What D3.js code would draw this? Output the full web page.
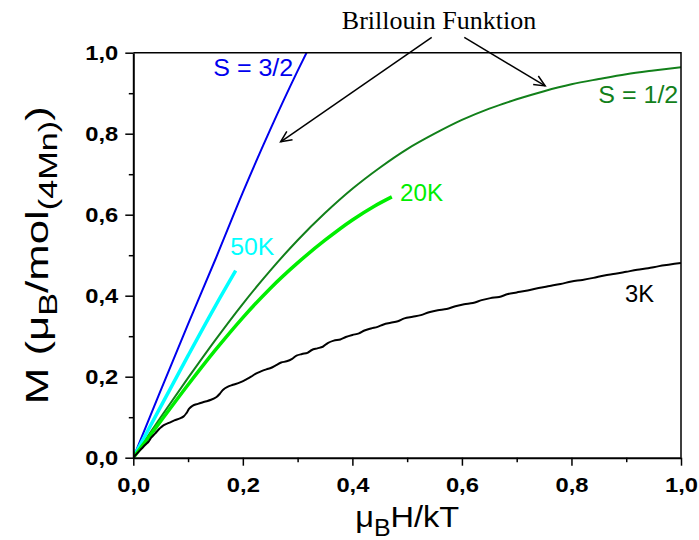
<!DOCTYPE html>
<html>
<head>
<meta charset="utf-8">
<script src="https://cdn.jsdelivr.net/npm/d3@7"></script>
<style>
  body { margin: 0; background: #fff; }
  svg { display: block; }
</style>
</head>
<body>
<svg id="canvas" width="699" height="540"></svg>
<script>
const svg = d3.select("#canvas");
const width = 699;
const height = 540;
const margin = { top: 52.7, right: 18, bottom: 82.3, left: 133.3 };

// curves: [muB*H/kT, M]
const s32 = [[0, 0], [0.05, 0.166], [0.1, 0.33], [0.15, 0.49], [0.2, 0.655], [0.25, 0.81], [0.3, 0.955], [0.32, 1.01]];
const s12 = [[0, 0], [0.05, 0.1], [0.1, 0.197], [0.15, 0.291], [0.2, 0.38], [0.25, 0.462], [0.3, 0.537], [0.35, 0.604],
    [0.4, 0.664], [0.45, 0.716], [0.5, 0.762], [0.55, 0.8], [0.6, 0.834], [0.65, 0.862], [0.7, 0.885], [0.75, 0.905],
    [0.8, 0.922], [0.85, 0.935], [0.9, 0.947], [0.95, 0.956], [1.0, 0.964]];
const k50 = [[0, 0], [0.05, 0.126], [0.1, 0.252], [0.15, 0.375], [0.187, 0.462]];
const k20 = [[0, 0], [0.05, 0.09], [0.1, 0.18], [0.15, 0.266], [0.2, 0.346], [0.25, 0.418], [0.3, 0.481], [0.35, 0.537],
    [0.4, 0.587], [0.44, 0.621], [0.472, 0.644]];
const k3 = [[0, 0], [0.008, 0.012], [0.015, 0.022], [0.022, 0.032], [0.028, 0.04], [0.033, 0.05], [0.04, 0.06],
    [0.048, 0.072], [0.055, 0.08], [0.065, 0.086], [0.075, 0.092], [0.085, 0.097], [0.092, 0.102], [0.097, 0.11],
    [0.102, 0.121], [0.108, 0.128], [0.118, 0.133], [0.13, 0.138], [0.142, 0.143], [0.152, 0.15], [0.158, 0.158],
    [0.164, 0.168], [0.172, 0.175], [0.182, 0.18], [0.195, 0.186], [0.207, 0.194], [0.215, 0.2], [0.223, 0.207],
    [0.233, 0.213], [0.243, 0.218], [0.252, 0.222], [0.26, 0.228], [0.27, 0.235], [0.28, 0.238], [0.29, 0.244],
    [0.298, 0.252], [0.308, 0.256], [0.318, 0.259], [0.326, 0.266], [0.336, 0.27], [0.346, 0.274], [0.355, 0.283],
    [0.366, 0.289], [0.378, 0.292], [0.388, 0.298], [0.4, 0.303], [0.412, 0.307], [0.422, 0.314], [0.434, 0.319],
    [0.446, 0.323], [0.457, 0.329], [0.47, 0.333], [0.483, 0.337], [0.495, 0.344], [0.51, 0.348], [0.525, 0.352],
    [0.54, 0.359], [0.556, 0.364], [0.572, 0.367], [0.588, 0.374], [0.604, 0.379], [0.62, 0.382], [0.636, 0.389],
    [0.652, 0.394], [0.668, 0.397], [0.684, 0.404], [0.7, 0.408], [0.72, 0.413], [0.74, 0.419], [0.76, 0.424],
    [0.78, 0.429], [0.8, 0.435], [0.82, 0.439], [0.84, 0.444], [0.86, 0.45], [0.88, 0.454], [0.9, 0.459],
    [0.92, 0.464], [0.94, 0.468], [0.96, 0.473], [0.98, 0.477], [1.0, 0.481]];

const majorTicks = [0, 0.2, 0.4, 0.6, 0.8, 1.0];
const minorTicks = [0.1, 0.3, 0.5, 0.7, 0.9];

const series = [
    { data: s32, color: "#0000ee", w: 2, wiggly: false },
    { data: s12, color: "#12801a", w: 2, wiggly: false },
    { data: k50, color: "#00ffff", w: 3.5, wiggly: false },
    { data: k20, color: "#00ee00", w: 3.5, wiggly: false },
    { data: k3, color: "#000000", w: 2, wiggly: true }
];

// label text, [x, M] anchor start, colour
const labels = [
    { text: "S = 3/2", x: 0.146, y: 0.943, color: "#0000ee", len: 80 },
    { text: "S = 1/2", x: 0.849, y: 0.875, color: "#12801a", len: 80 },
    { text: "20K", x: 0.487, y: 0.634, color: "#00ee00", len: 43 },
    { text: "50K", x: 0.177, y: 0.5, color: "#00ffff", len: 44 },
    { text: "3K", x: 0.898, y: 0.384, color: "#000000", len: 29 }
];

const x = d3.scaleLinear().domain([0, 1]).range([margin.left, width - margin.right]);
const y = d3.scaleLinear().domain([0, 1]).range([height - margin.bottom, margin.top]);

svg.append("defs").append("clipPath")
    .attr("id", "plotclip")
    .append("rect")
    .attr("x", x(0)).attr("y", y(1))
    .attr("width", x(1) - x(0)).attr("height", y(0) - y(1));

svg.select("defs").append("marker")
    .attr("id", "arrow")
    .attr("viewBox", "-12 -6 14 12")
    .attr("refX", 0)
    .attr("refY", 0)
    .attr("markerWidth", 14)
    .attr("markerHeight", 12)
    .attr("markerUnits", "userSpaceOnUse")
    .attr("orient", "auto")
    .append("path")
    .attr("d", "M-11,-5L0,0L-11,5")
    .attr("fill", "none")
    .attr("stroke", "black")
    .attr("stroke-width", 1.5);

const smooth = d3.line()
    .x(d => x(d[0]))
    .y(d => y(d[1]))
    .curve(d3.curveMonotoneX);

const wiggle = d3.line()
    .x(d => x(d[0]))
    .y(d => y(d[1]))
    .curve(d3.curveCatmullRom);

const plot = svg.append("g").attr("clip-path", "url(#plotclip)");
series.forEach(s => {
    plot.append("path")
        .datum(s.data)
        .attr("d", s.wiggly ? wiggle : smooth)
        .attr("fill", "none")
        .attr("stroke", s.color)
        .attr("stroke-width", s.w)
        .attr("stroke-linejoin", "round");
});

// frame top and right
svg.append("path")
    .attr("d", `M${x(0)},${y(1)}H${x(1)}V${y(0)}`)
    .attr("fill", "none")
    .attr("stroke", "black")
    .attr("stroke-width", 1.5);

function styleAxis(g) {
    g.select(".domain").attr("stroke-width", 2);
    g.selectAll(".tick line").attr("stroke-width", 1.5);
    g.selectAll(".tick text")
        .attr("font-family", "Arial, 'Liberation Sans', sans-serif")
        .attr("font-size", "21px")
        .attr("font-weight", "bold")
        .attr("fill", "black")
        .attr("textLength", 33)
        .attr("lengthAdjust", "spacingAndGlyphs");
}

const fmt = d => d3.format(".1f")(d).replace(".", ",");

const xAxis = svg.append("g")
    .attr("transform", `translate(0,${y(0)})`)
    .call(d3.axisBottom(x).tickValues(majorTicks).tickSize(8).tickPadding(11).tickFormat(fmt).tickSizeOuter(0));
styleAxis(xAxis);
xAxis.selectAll(".tick text").attr("dy", "0.71em");

svg.append("g")
    .attr("transform", `translate(0,${y(0)})`)
    .call(d3.axisBottom(x).tickValues(minorTicks).tickSize(4.5).tickFormat("").tickSizeOuter(0))
    .call(g => g.select(".domain").remove())
    .selectAll(".tick line").attr("stroke-width", 1.5);

const yAxis = svg.append("g")
    .attr("transform", `translate(${x(0)},0)`)
    .call(d3.axisLeft(y).tickValues(majorTicks).tickSize(8).tickPadding(7).tickFormat(fmt).tickSizeOuter(0));
styleAxis(yAxis);

svg.append("g")
    .attr("transform", `translate(${x(0)},0)`)
    .call(d3.axisLeft(y).tickValues(minorTicks).tickSize(4.5).tickFormat("").tickSizeOuter(0))
    .call(g => g.select(".domain").remove())
    .selectAll(".tick line").attr("stroke-width", 1.5);

// curve labels
labels.forEach(l => {
    svg.append("text")
        .attr("x", x(l.x))
        .attr("y", y(l.y))
        .attr("font-family", "Arial, 'Liberation Sans', sans-serif")
        .attr("font-size", "23px")
        .attr("fill", l.color)
        .attr("textLength", l.len)
        .attr("lengthAdjust", "spacingAndGlyphs")
        .text(l.text);
});

// annotation
svg.append("text")
    .attr("x", 439)
    .attr("y", 29)
    .attr("text-anchor", "middle")
    .attr("font-family", "'Times New Roman', 'Liberation Serif', serif")
    .attr("font-size", "26px")
    .attr("fill", "black")
    .text("Brillouin Funktion");

svg.append("line")
    .attr("x1", 431.7).attr("y1", 37.3)
    .attr("x2", x(0.269)).attr("y2", y(0.78))
    .attr("stroke", "black").attr("stroke-width", 1.5)
    .attr("marker-end", "url(#arrow)");

svg.append("line")
    .attr("x1", 464.3).attr("y1", 37.3)
    .attr("x2", x(0.752)).attr("y2", y(0.918))
    .attr("stroke", "black").attr("stroke-width", 1.5)
    .attr("marker-end", "url(#arrow)");

// axis titles
const xt = svg.append("text")
    .attr("x", (x(0) + x(1)) / 2)
    .attr("y", 527)
    .attr("text-anchor", "middle")
    .attr("font-family", "Arial, 'Liberation Sans', sans-serif")
    .attr("font-size", "30px")
    .attr("fill", "black")
    .attr("textLength", 104)
    .attr("lengthAdjust", "spacingAndGlyphs");
xt.append("tspan").text("\u03bc");
xt.append("tspan").attr("font-size", "23px").attr("dy", 9).text("B");
xt.append("tspan").attr("dy", -9).text("H/kT");

const yt = svg.append("text")
    .attr("transform", `translate(48,${(y(0) + y(1)) / 2}) rotate(-90)`)
    .attr("text-anchor", "middle")
    .attr("font-family", "Arial, 'Liberation Sans', sans-serif")
    .attr("font-size", "32px")
    .attr("fill", "black")
    .attr("textLength", 298)
    .attr("lengthAdjust", "spacingAndGlyphs");
yt.append("tspan").text("M (\u03bc");
yt.append("tspan").attr("font-size", "25px").attr("dy", 9).text("B");
yt.append("tspan").attr("dy", -9).text("/mol");
yt.append("tspan").attr("font-size", "25px").attr("dy", 9).text("(4Mn)");
yt.append("tspan").attr("dy", -9).text(")");
</script>
</body>
</html>
